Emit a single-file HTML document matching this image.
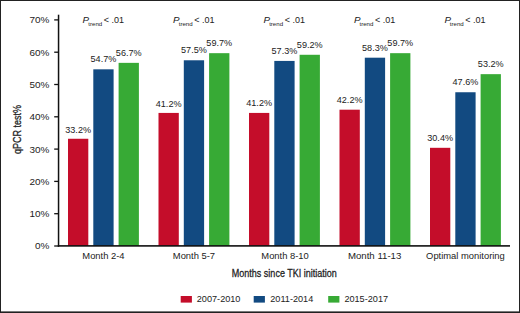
<!DOCTYPE html><html><head><meta charset="utf-8"><style>html,body{margin:0;padding:0;background:#fff}svg{display:block}text{font-family:"Liberation Sans",sans-serif;fill:#222}</style></head><body>
<svg width="520" height="313" viewBox="0 0 520 313">
<rect x="0" y="0" width="520" height="313" fill="#fff"/>
<rect x="0" y="0" width="520" height="1" fill="#222"/>
<rect x="0" y="0" width="1" height="313" fill="#222"/>
<rect x="519" y="0" width="1" height="313" fill="#222"/>
<rect x="0" y="311.4" width="520" height="1.6" fill="#222"/>
<rect x="68.00" y="138.76" width="20.3" height="107.24" fill="#c40d2a"/>
<text x="78.15" y="132.56" font-size="9.1" text-anchor="middle">33.2%</text>
<rect x="93.30" y="69.32" width="20.3" height="176.68" fill="#124a81"/>
<text x="103.45" y="62.42" font-size="9.1" text-anchor="middle">54.7%</text>
<rect x="118.60" y="62.86" width="20.3" height="183.14" fill="#37aa35"/>
<text x="128.75" y="56.26" font-size="9.1" text-anchor="middle">56.7%</text>
<text x="82.45" y="22.8" font-size="9.8" font-style="italic">P</text>
<text x="88.35" y="26.4" font-size="6.1">trend</text>
<text x="103.85" y="22.8" font-size="9.0">&lt; .01</text>
<text x="103.45" y="258.9" font-size="9.4" text-anchor="middle">Month 2-4</text>
<rect x="158.50" y="112.92" width="20.3" height="133.08" fill="#c40d2a"/>
<text x="168.65" y="106.92" font-size="9.1" text-anchor="middle">41.2%</text>
<rect x="183.80" y="60.28" width="20.3" height="185.72" fill="#124a81"/>
<text x="193.95" y="53.28" font-size="9.1" text-anchor="middle">57.5%</text>
<rect x="209.10" y="53.17" width="20.3" height="192.83" fill="#37aa35"/>
<text x="219.25" y="46.17" font-size="9.1" text-anchor="middle">59.7%</text>
<text x="172.95" y="22.8" font-size="9.8" font-style="italic">P</text>
<text x="178.75" y="26.4" font-size="6.1">trend</text>
<text x="194.25" y="22.8" font-size="9.0">&lt; .01</text>
<text x="193.95" y="258.9" font-size="9.4" text-anchor="middle">Month 5-7</text>
<rect x="249.00" y="112.92" width="20.3" height="133.08" fill="#c40d2a"/>
<text x="259.15" y="106.42" font-size="9.1" text-anchor="middle">41.2%</text>
<rect x="274.30" y="60.92" width="20.3" height="185.08" fill="#124a81"/>
<text x="284.45" y="53.92" font-size="9.1" text-anchor="middle">57.3%</text>
<rect x="299.60" y="54.78" width="20.3" height="191.22" fill="#37aa35"/>
<text x="309.75" y="47.78" font-size="9.1" text-anchor="middle">59.2%</text>
<text x="263.45" y="22.8" font-size="9.8" font-style="italic">P</text>
<text x="269.15" y="26.4" font-size="6.1">trend</text>
<text x="284.65" y="22.8" font-size="9.0">&lt; .01</text>
<text x="285.05" y="258.9" font-size="9.4" text-anchor="middle">Month 8-10</text>
<rect x="339.50" y="109.69" width="20.3" height="136.31" fill="#c40d2a"/>
<text x="349.65" y="103.19" font-size="9.1" text-anchor="middle">42.2%</text>
<rect x="364.80" y="57.69" width="20.3" height="188.31" fill="#124a81"/>
<text x="374.95" y="50.69" font-size="9.1" text-anchor="middle">58.3%</text>
<rect x="390.10" y="53.17" width="20.3" height="192.83" fill="#37aa35"/>
<text x="400.25" y="46.17" font-size="9.1" text-anchor="middle">59.7%</text>
<text x="353.95" y="22.8" font-size="9.8" font-style="italic">P</text>
<text x="359.45" y="26.4" font-size="6.1">trend</text>
<text x="374.95" y="22.8" font-size="9.0">&lt; .01</text>
<text x="374.65" y="258.9" font-size="9.4" text-anchor="middle" textLength="53.4" lengthAdjust="spacingAndGlyphs">Month 11-13</text>
<rect x="430.00" y="147.81" width="20.3" height="98.19" fill="#c40d2a"/>
<text x="440.15" y="141.31" font-size="9.1" text-anchor="middle">30.4%</text>
<rect x="455.30" y="92.25" width="20.3" height="153.75" fill="#124a81"/>
<text x="465.45" y="85.25" font-size="9.1" text-anchor="middle">47.6%</text>
<rect x="480.60" y="74.16" width="20.3" height="171.84" fill="#37aa35"/>
<text x="490.75" y="67.16" font-size="9.1" text-anchor="middle">53.2%</text>
<text x="444.45" y="22.8" font-size="9.8" font-style="italic">P</text>
<text x="449.85" y="26.4" font-size="6.1">trend</text>
<text x="465.35" y="22.8" font-size="9.0">&lt; .01</text>
<text x="465.45" y="258.9" font-size="9.4" text-anchor="middle">Optimal monitoring</text>
<rect x="57.8" y="14.7" width="1.5" height="232.0" fill="#111"/>
<rect x="57.8" y="245.1" width="452.2" height="1.6" fill="#111"/>
<rect x="54.2" y="245.35" width="4.5" height="1.3" fill="#111"/>
<text x="34.90" y="249.40" font-size="9.4" textLength="14.4" lengthAdjust="spacingAndGlyphs">0%</text>
<rect x="54.2" y="213.05" width="4.5" height="1.3" fill="#111"/>
<text x="29.40" y="217.10" font-size="9.4" textLength="19.9" lengthAdjust="spacingAndGlyphs">10%</text>
<rect x="54.2" y="180.75" width="4.5" height="1.3" fill="#111"/>
<text x="29.40" y="184.80" font-size="9.4" textLength="19.9" lengthAdjust="spacingAndGlyphs">20%</text>
<rect x="54.2" y="148.45" width="4.5" height="1.3" fill="#111"/>
<text x="29.40" y="152.50" font-size="9.4" textLength="19.9" lengthAdjust="spacingAndGlyphs">30%</text>
<rect x="54.2" y="116.15" width="4.5" height="1.3" fill="#111"/>
<text x="29.40" y="120.20" font-size="9.4" textLength="19.9" lengthAdjust="spacingAndGlyphs">40%</text>
<rect x="54.2" y="83.85" width="4.5" height="1.3" fill="#111"/>
<text x="29.40" y="87.90" font-size="9.4" textLength="19.9" lengthAdjust="spacingAndGlyphs">50%</text>
<rect x="54.2" y="51.55" width="4.5" height="1.3" fill="#111"/>
<text x="29.40" y="55.60" font-size="9.4" textLength="19.9" lengthAdjust="spacingAndGlyphs">60%</text>
<rect x="54.2" y="19.25" width="4.5" height="1.3" fill="#111"/>
<text x="29.40" y="23.30" font-size="9.4" textLength="19.9" lengthAdjust="spacingAndGlyphs">70%</text>
<text transform="translate(20.6,129.4) rotate(-90) scale(0.77,1)" font-size="11.7" stroke="#222" stroke-width="0.3" text-anchor="middle">qPCR test%</text>
<text transform="translate(284.3,276.8) scale(0.77,1)" font-size="11.7" stroke="#222" stroke-width="0.3" text-anchor="middle">Months since TKI initiation</text>
<rect x="180.7" y="296" width="11.2" height="6.6" fill="#c40d2a"/>
<text x="196.8" y="301.9" font-size="9.15">2007-2010</text>
<rect x="253.7" y="296" width="11.2" height="6.6" fill="#124a81"/>
<text x="270.3" y="301.9" font-size="9.15">2011-2014</text>
<rect x="328.2" y="296" width="11.2" height="6.6" fill="#37aa35"/>
<text x="344.4" y="301.9" font-size="9.15">2015-2017</text>
</svg></body></html>
